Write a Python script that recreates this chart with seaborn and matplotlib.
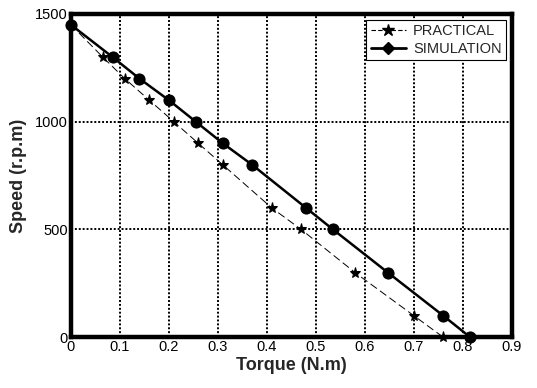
import pandas as pd
import matplotlib
matplotlib.use("Agg")
import matplotlib.pyplot as plt
import seaborn as sns
from matplotlib.lines import Line2D

speed = [1450, 1300, 1200, 1100, 1000, 900, 800, 600, 500, 300, 100, 0]
torque_practical = [0, 0.065, 0.11, 0.16, 0.21, 0.26, 0.31, 0.41, 0.47, 0.58, 0.70, 0.76]
torque_simulation = [0, 0.085, 0.14, 0.20, 0.255, 0.31, 0.37, 0.48, 0.535, 0.647, 0.76, 0.815]

df = pd.concat([
    pd.DataFrame({"Torque": torque_practical, "Speed": speed, "series": "PRACTICAL"}),
    pd.DataFrame({"Torque": torque_simulation, "Speed": speed, "series": "SIMULATION"}),
])

sns.set_style("white")
plt.rcParams["font.family"] = ["Liberation Sans", "DejaVu Sans"]

fig = plt.figure(figsize=(5.37, 3.88), dpi=100)
ax = fig.add_axes([0.132, 0.131, 0.821, 0.833])

sns.lineplot(data=df, x="Torque", y="Speed", hue="series", style="series",
             palette={"PRACTICAL": "black", "SIMULATION": "black"},
             dashes={"PRACTICAL": (8, 4), "SIMULATION": ""},
             markers={"PRACTICAL": "*", "SIMULATION": "o"},
             size="series", sizes={"PRACTICAL": 0.7, "SIMULATION": 1.8},
             markersize=8, markeredgecolor="black", sort=False, ax=ax,
             legend=False, clip_on=False, zorder=3)

# legend built by hand to mimic the original
handles = [
    Line2D([], [], color="black", lw=0.8, ls=(0, (4, 2)), marker="*", markersize=9),
    Line2D([], [], color="black", lw=2, marker="D", markersize=6),
]
leg = ax.legend(handles, ["PRACTICAL", "SIMULATION"], loc="upper right",
                fancybox=False, framealpha=1, edgecolor="black", fontsize=10.5,
                handlelength=2.4, borderaxespad=0.4, borderpad=0.3, labelspacing=0.25,
                handletextpad=0.5)
leg.get_frame().set_linewidth(0.8)

ax.set_xlim(0, 0.9)
ax.set_ylim(0, 1500)
ax.set_xticks([0, 0.1, 0.2, 0.3, 0.4, 0.5, 0.6, 0.7, 0.8, 0.9])
ax.set_xticklabels(["0", "0.1", "0.2", "0.3", "0.4", "0.5", "0.6", "0.7", "0.8", "0.9"])
ax.set_yticks([0, 500, 1000, 1500])
ax.grid(True, color="black", linestyle=(0, (1, 1)), linewidth=1.4)
ax.tick_params(direction="in", length=4, width=1, labelsize=10.5, colors="black", pad=2)
for s in ax.spines.values():
    s.set_linewidth(3.2)
    s.set_color("black")

ax.set_xlabel("Torque (N.m)", fontsize=13, fontweight="bold", labelpad=2)
ax.set_ylabel("Speed (r.p.m)", fontsize=13, fontweight="bold", labelpad=6)

fig.savefig("out.png", dpi=100)
